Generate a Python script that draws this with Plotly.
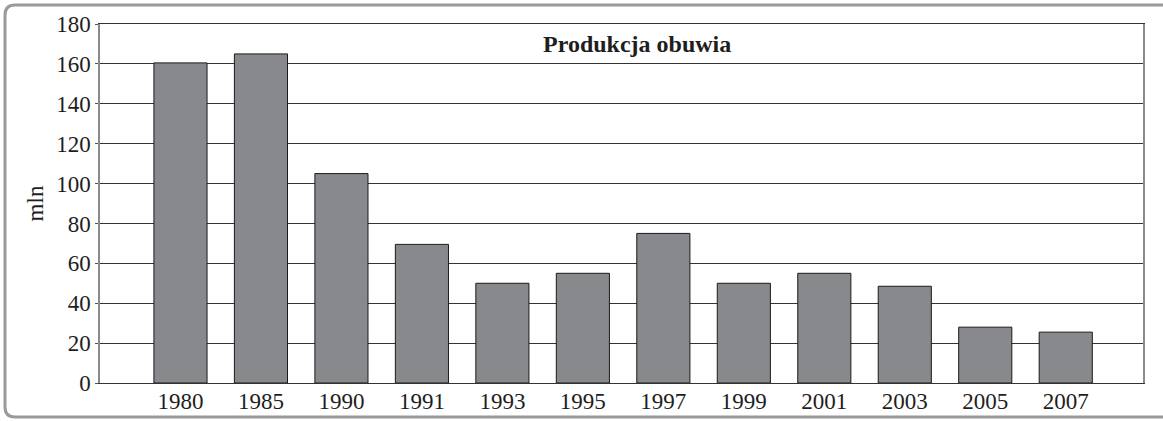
import plotly.graph_objects as go

years = ["1980", "1985", "1990", "1991", "1993", "1995", "1997", "1999", "2001", "2003", "2005", "2007"]
production = [160.5, 165, 105, 69.5, 50, 55, 75, 50, 55, 48.5, 28, 25.5]
y_ticks = [0, 20, 40, 60, 80, 100, 120, 140, 160, 180]

W, H = 1163, 421
ML, MR, MT, MB = 100, 20, 24, 38
PW, PH = W - ML - MR, H - MT - MB


def px(x):
    return (x - ML) / PW


def py(y):
    return (H - MB - y) / PH


# rounded grey frame around the whole figure (runs off the right edge)
r = 10
x0, y0, x1, y1 = 5, 5, 1175, 417
frame = (f"M {px(x1)} {py(y0)} L {px(x0 + r)} {py(y0)} "
         f"Q {px(x0)} {py(y0)} {px(x0)} {py(y0 + r)} "
         f"L {px(x0)} {py(y1 - r)} "
         f"Q {px(x0)} {py(y1)} {px(x0 + r)} {py(y1)} "
         f"L {px(x1)} {py(y1)}")

fig = go.Figure(go.Bar(
    x=years,
    y=production,
    width=0.66,
    marker=dict(color='#88898c', line=dict(color='#1a1a1a', width=1)),
))

fig.update_layout(
    width=W, height=H,
    margin=dict(l=ML, r=MR, t=MT, b=MB),
    paper_bgcolor='white',
    plot_bgcolor='white',
    font=dict(family='Liberation Serif', size=23, color='#1e1e1e'),
    showlegend=False,
    xaxis=dict(
        type='category',
        range=[-1.0, 11.96],
        automargin=False,
        showgrid=False,
        showline=True, linecolor='#333', linewidth=1, mirror=True,
        ticks='',
        ticklabelstandoff=-3,
        tickfont=dict(size=23),
    ),
    yaxis=dict(
        range=[0, 180],
        tickvals=y_ticks,
        automargin=False,
        showgrid=True, gridcolor='#333', gridwidth=1,
        showline=True, linecolor='#8a8a8a', linewidth=1.5, mirror=True,
        ticks='outside', ticklen=3, tickcolor='#555',
        zeroline=False,
        tickfont=dict(size=23),
        title=dict(text='mln', font=dict(size=23), standoff=6),
    ),
    annotations=[dict(
        text='<b>Produkcja obuwia</b>', x=0.515, y=py(44),
        xref='paper', yref='paper', showarrow=False,
        xanchor='center', yanchor='middle',
        font=dict(size=24, family='Liberation Serif', color='#1e1e1e'),
    )],
    shapes=[dict(type='path', path=frame, xref='paper', yref='paper',
                 line=dict(color='#9a9a9a', width=3), layer='above')],
)

fig.write_html("out.html", config={'displayModeBar': False},
               post_script="document.body.style.margin='0';")
